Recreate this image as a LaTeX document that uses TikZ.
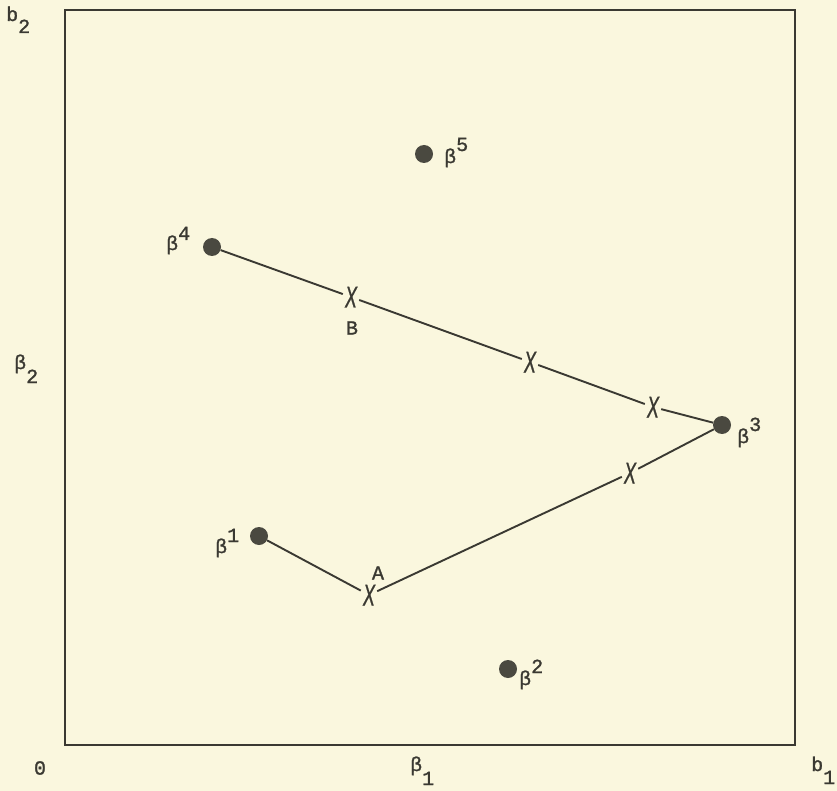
\documentclass[tikz,border=0pt]{standalone}
\usepackage{fontspec}
\setmainfont[FakeBold=1.3]{Liberation Mono}
\newfontfamily\xfont[FakeBold=1]{Liberation Sans}
\definecolor{bg}{HTML}{FAF7DE}
\definecolor{ink}{HTML}{3A3932}
\definecolor{dotc}{HTML}{4A4940}
\begin{document}
\begin{tikzpicture}[x=1pt,y=-1pt,
  dot/.style={circle,fill=dotc,minimum size=18pt,inner sep=0pt},
  cross/.style={font=\xfont\itshape\fontsize{30}{30}\selectfont, inner sep=2pt, text height=21pt, text depth=0pt, text=ink},
  lbl/.style={font=\fontsize{20}{20}\selectfont, text=ink, inner sep=0pt},
  edge/.style={draw=ink, line width=1.9pt},
  frame/.style={draw=ink, line width=2.4pt, inner sep=0pt}]
\fill[bg] (0,0) rectangle (837,791);
\useasboundingbox (0,0) rectangle (837,791);
\node[frame, minimum width=730pt, minimum height=735pt, anchor=north west] (box) at (64,9) {};
% points
\node[dot] (p1) at (259,536) {};
\node[dot] (p2) at (508,669) {};
\node[dot] (p3) at (722,425) {};
\node[dot] (p4) at (212,247) {};
\node[dot] (p5) at (424,154) {};
% crosses
\newcommand{\xmark}{\scalebox{0.6}[1]{X}}
\node[cross] (xa) at (369,595) {\xmark};
\node[cross] (xl) at (630,473) {\xmark};
\node[cross] (xu) at (653,407) {\xmark};
\node[cross] (xm) at (530,362) {\xmark};
\node[cross] (xb) at (351,297) {\xmark};
% connectors
\draw[edge] (p1) -- (xa);
\draw[edge] (xa) -- (xl);
\draw[edge] (xl) -- (p3);
\draw[edge] (p3) -- (xu);
\draw[edge] (xu) -- (xm);
\draw[edge] (xm) -- (xb);
\draw[edge] (xb) -- (p4);
% point labels
\node[lbl, anchor=base west] (l1) at (215,553) {β\raisebox{11pt}{1}};
\node[lbl, anchor=base west] (l2) at (519,685) {β\raisebox{12pt}{2}};
\node[lbl, anchor=base west] (l3) at (737,443) {β\raisebox{12pt}{3}};
\node[lbl, anchor=base west] (l4) at (166,250) {β\raisebox{10pt}{4}};
\node[lbl, anchor=base west] (l5) at (444,163) {β\raisebox{12pt}{5}};
\node[lbl] (la) at (378,573) {A};
\node[lbl] (lb) at (352,328) {B};
% axis labels
\node[lbl, anchor=base west] (b2) at (6,21) {b\raisebox{-12pt}{2}};
\node[lbl, anchor=base west] (beta2) at (14,369) {β\raisebox{-14pt}{2}};
\node[lbl] (zero) at (40,768) {0};
\node[lbl, anchor=base west] (beta1) at (410,771) {β\raisebox{-14pt}{1}};
\node[lbl, anchor=base west] (b1) at (811,771) {b\raisebox{-13pt}{1}};
\end{tikzpicture}
\end{document}
